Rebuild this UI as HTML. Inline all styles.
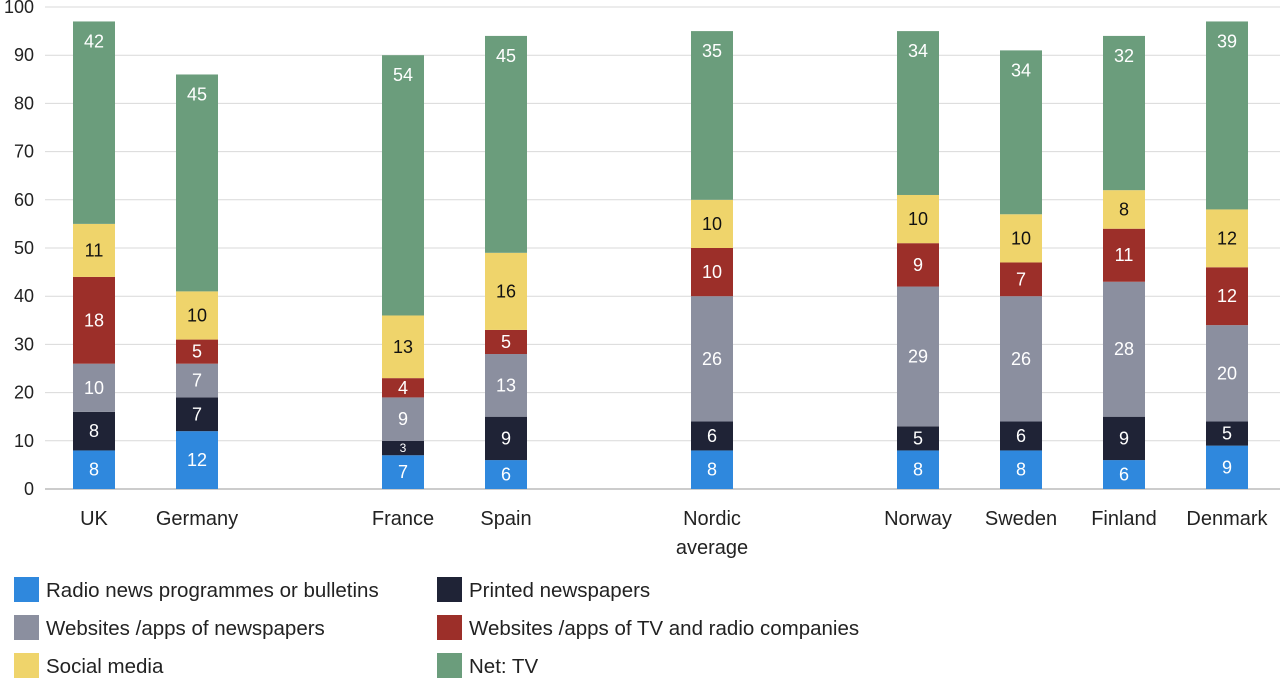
<!DOCTYPE html>
<html><head><meta charset="utf-8"><style>
body{margin:0;background:#fff;font-family:"Liberation Sans",sans-serif;}
svg text{font-family:"Liberation Sans",sans-serif;}
</style></head><body>
<svg id="c" width="1280" height="681"></svg>
<script>
const categories=["UK","Germany","","France","Spain","","Nordic|average","","Norway","Sweden","Finland","Denmark"];
const radio=[8,12,null,7,6,null,8,null,8,8,6,9];
const printed=[8,7,null,3,9,null,6,null,5,6,9,5];
const newsSites=[10,7,null,9,13,null,26,null,29,26,28,20];
const tvSites=[18,5,null,4,5,null,10,null,9,7,11,12];
const social=[11,10,null,13,16,null,10,null,10,10,8,12];
const netTv=[42,45,null,54,45,null,35,null,34,34,32,39];
const yTicks=[0,10,20,30,40,50,60,70,80,90,100];
const seriesNames=["Radio news programmes or bulletins","Printed newspapers","Websites /apps of newspapers","Websites /apps of TV and radio companies","Social media","Net: TV"];
const series=[radio,printed,newsSites,tvSites,social,netTv];
const colors=["#2f88dd","#1f2336","#8b8f9f","#9c2f29","#efd46b","#6b9d7c"];
const textColors=["#fff","#fff","#fff","#fff","#111","#fff"];
const NS="http://www.w3.org/2000/svg";
const svg=document.getElementById('c');
function y(v){return 489-v*4.82;}
function x(i){return 94+i*103;}
function mk(t,a,p){const e=document.createElementNS(NS,t);for(const k in a)e.setAttribute(k,a[k]);(p||svg).appendChild(e);return e;}
yTicks.forEach(t=>{
  const l=mk('line',{x1:45,x2:1280,y1:y(t),y2:y(t),stroke:t===0?'#999':'#d9d9d9','stroke-width':1});
  
  
  const tx=mk('text',{x:34,y:y(t)+6,'text-anchor':'end','font-size':18,fill:'#222'});
  tx.textContent=t;
  
  
});
categories.forEach((c,i)=>{
  if(!c)return;
  let base=0;
  series.forEach((s,k)=>{
    const v=s[i];
    const r=mk('rect',{x:x(i)-21,width:42,y:y(base+v),height:v*4.82,fill:colors[k]});
    
    
    const ty=k===5?y(base+v)+26:y(base+v/2)+(v<4?4:6);
    const t=mk('text',{x:x(i),y:ty,'text-anchor':'middle','font-size':v<4?12:18,fill:textColors[k]});
    t.textContent=v;
    
    
    base+=v;
  });
  c.split('|').forEach((ln,j)=>{
    const t=mk('text',{x:x(i),y:525+j*29,'text-anchor':'middle','font-size':20,fill:'#222'});
    t.textContent=ln;
    
    
  });
});
seriesNames.forEach((n,k)=>{
  const col=k%2,row=Math.floor(k/2);
  const lx=col?437:14, ly=577+row*38;
  const g=mk('g',{});
  
  
  mk('rect',{x:lx,y:ly,width:25,height:25,fill:colors[k]},g);
  const t=mk('text',{x:lx+32,y:ly+20,'font-size':20.5,fill:'#222'},g);
  t.textContent=n;
});
</script>
</body></html>
